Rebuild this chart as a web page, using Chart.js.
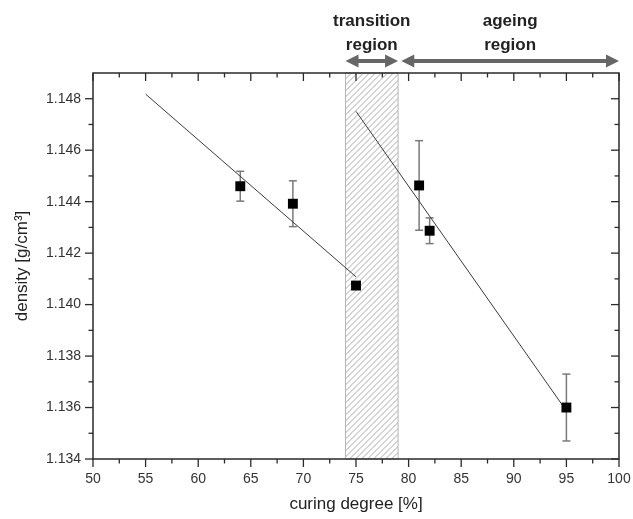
<!DOCTYPE html>
<html>
<head>
<meta charset="utf-8">
<script src="https://cdn.jsdelivr.net/npm/chart.js@4.4.1/dist/chart.umd.min.js"></script>
<style>
  html, body { margin: 0; padding: 0; background: #fff; }
</style>
</head>
<body>
<canvas id="densityChart" width="633" height="519"></canvas>
<script>
// measured points
const curing = [64, 69, 75, 81, 82, 95];
const density = [1.14460, 1.14392, 1.14074, 1.14463, 1.14287, 1.13600];
const densityErr = [0.00058, 0.00089, 0, 0.00174, 0.00050, 0.00130];

// linear fits (end points)
const fit1X = [55, 75];
const fit1Y = [1.14818, 1.14108];
const fit2X = [75, 95];
const fit2Y = [1.14751, 1.13587];

// axis ticks
const xTicks = [50, 55, 60, 65, 70, 75, 80, 85, 90, 95, 100];
const yTicks = [1.134, 1.136, 1.138, 1.140, 1.142, 1.144, 1.146, 1.148];

// regions
const transitionRange = [74, 79];
const ageingRange = [79.3, 100];
const transitionLabel = ['transition', 'region'];
const ageingLabel = ['ageing', 'region'];

const FONT = "'Liberation Sans', Arial, sans-serif";

function line(ctx, x0, y0, x1, y1) {
    ctx.beginPath();
    ctx.moveTo(x0, y0);
    ctx.lineTo(x1, y1);
    ctx.stroke();
}

function doubleArrow(ctx, xa, xb, yy) {
    const head = 13, half = 6.5;
    ctx.lineWidth = 4;
    line(ctx, xa + head - 1, yy, xb - head + 1, yy);
    ctx.beginPath();
    ctx.moveTo(xa, yy);
    ctx.lineTo(xa + head, yy - half);
    ctx.lineTo(xa + head, yy + half);
    ctx.closePath();
    ctx.fill();
    ctx.beginPath();
    ctx.moveTo(xb, yy);
    ctx.lineTo(xb - head, yy - half);
    ctx.lineTo(xb - head, yy + half);
    ctx.closePath();
    ctx.fill();
}

const decor = {
    id: 'decor',
    beforeDatasetsDraw(chart) {
        const { ctx, chartArea: a, scales: { x, y } } = chart;
        // hatched transition band
        const x0 = x.getPixelForValue(transitionRange[0]);
        const x1 = x.getPixelForValue(transitionRange[1]);
        const h = a.bottom - a.top;
        ctx.save();
        ctx.beginPath();
        ctx.rect(x0, a.top, x1 - x0, h);
        ctx.clip();
        ctx.strokeStyle = '#ababab';
        ctx.lineWidth = 1;
        for (let s = x0 - h; s < x1 + 2; s += 6) {
            line(ctx, s, a.bottom, s + h, a.top);
        }
        ctx.restore();
        ctx.save();
        ctx.strokeStyle = '#b5b5b5';
        ctx.lineWidth = 1;
        ctx.strokeRect(x0, a.top, x1 - x0, h);
        ctx.restore();

        // error bars
        ctx.save();
        ctx.strokeStyle = '#7a7a7a';
        ctx.lineWidth = 1.5;
        curing.forEach((c, i) => {
            if (!densityErr[i]) return;
            const px = x.getPixelForValue(c);
            const top = y.getPixelForValue(density[i] + densityErr[i]);
            const bot = y.getPixelForValue(density[i] - densityErr[i]);
            line(ctx, px, top, px, bot);
            line(ctx, px - 4, top, px + 4, top);
            line(ctx, px - 4, bot, px + 4, bot);
        });
        ctx.restore();
    },
    afterDraw(chart) {
        const { ctx, chartArea: a, scales: { x, y } } = chart;
        ctx.save();
        ctx.strokeStyle = '#2a2a2a';
        ctx.lineWidth = 1.5;
        ctx.strokeRect(a.left, a.top, a.right - a.left, a.bottom - a.top);

        const major = 8, minor = 4.5;
        ctx.lineWidth = 1.3;
        xTicks.forEach((v, i) => {
            const px = x.getPixelForValue(v);
            line(ctx, px, a.bottom, px, a.bottom + major);
            line(ctx, px, a.top, px, a.top + major);
            if (i < xTicks.length - 1) {
                const m = x.getPixelForValue((v + xTicks[i + 1]) / 2);
                line(ctx, m, a.bottom, m, a.bottom + minor);
                line(ctx, m, a.top, m, a.top + minor);
            }
        });
        yTicks.forEach((v, i) => {
            const py = y.getPixelForValue(v);
            line(ctx, a.left, py, a.left - major, py);
            line(ctx, a.right, py, a.right - major, py);
            const next = i < yTicks.length - 1 ? yTicks[i + 1] : v + 0.002;
            const mv = (v + next) / 2;
            if (mv < y.max) {
                const m = y.getPixelForValue(mv);
                line(ctx, a.left, m, a.left - minor, m);
                line(ctx, a.right, m, a.right - minor, m);
            }
        });

        // region arrows and labels
        const ay = a.top - 12;
        ctx.strokeStyle = '#666';
        ctx.fillStyle = '#666';
        const t0 = x.getPixelForValue(transitionRange[0]);
        const t1 = x.getPixelForValue(transitionRange[1]);
        const g0 = x.getPixelForValue(ageingRange[0]);
        const g1 = x.getPixelForValue(ageingRange[1]);
        doubleArrow(ctx, t0, t1, ay);
        doubleArrow(ctx, g0, g1, ay);

        ctx.fillStyle = '#222';
        ctx.font = 'bold 17px ' + FONT;
        ctx.textAlign = 'center';
        ctx.textBaseline = 'middle';
        transitionLabel.forEach((t, i) => ctx.fillText(t, (t0 + t1) / 2, 21 + i * 24));
        ageingLabel.forEach((t, i) => ctx.fillText(t, (g0 + g1) / 2, 21 + i * 24));
        ctx.restore();
    }
};

const tickFont = { family: FONT, size: 14 };
const titleFont = { family: FONT, size: 17 };

new Chart(document.getElementById('densityChart'), {
    type: 'scatter',
    data: {
        datasets: [
            {
                label: 'density',
                data: curing.map((c, i) => ({ x: c, y: density[i] })),
                pointStyle: 'rect',
                pointRadius: 7,
                backgroundColor: '#000',
                borderColor: '#000',
                borderWidth: 0,
                order: 0
            },
            {
                type: 'line',
                label: 'fit 1',
                data: fit1X.map((v, i) => ({ x: v, y: fit1Y[i] })),
                borderColor: '#3a3a3a',
                borderWidth: 1,
                pointRadius: 0,
                fill: false,
                order: 1
            },
            {
                type: 'line',
                label: 'fit 2',
                data: fit2X.map((v, i) => ({ x: v, y: fit2Y[i] })),
                borderColor: '#3a3a3a',
                borderWidth: 1,
                pointRadius: 0,
                fill: false,
                order: 1
            }
        ]
    },
    options: {
        responsive: false,
        animation: false,
        devicePixelRatio: 1,
        layout: { padding: { top: 73, right: 14, left: 0, bottom: 0 } },
        plugins: {
            legend: { display: false },
            tooltip: { enabled: false }
        },
        scales: {
            x: {
                type: 'linear',
                min: 50,
                max: 100,
                afterFit: s => { s.height = 60; s.paddingLeft = 0; s.paddingRight = 0; },
                afterBuildTicks: s => { s.ticks = xTicks.map(v => ({ value: v })); },
                grid: { display: false, drawTicks: false },
                border: { display: false },
                ticks: { padding: 12, color: '#333', font: tickFont, maxRotation: 0, autoSkip: false },
                title: {
                    display: true,
                    text: 'curing degree [%]',
                    color: '#222',
                    font: titleFont,
                    padding: { top: 0, bottom: 4 }
                }
            },
            y: {
                type: 'linear',
                min: 1.134,
                max: 1.149,
                afterFit: s => { s.width = 93; s.paddingTop = 0; s.paddingBottom = 0; },
                afterBuildTicks: s => { s.ticks = yTicks.map(v => ({ value: v })); },
                grid: { display: false, drawTicks: false },
                border: { display: false },
                ticks: {
                    padding: 12,
                    color: '#333',
                    font: tickFont,
                    autoSkip: false,
                    callback: v => v.toFixed(3)
                },
                title: {
                    display: true,
                    text: 'density [g/cm³]',
                    color: '#222',
                    font: titleFont,
                    padding: { top: 12, bottom: 0 }
                }
            }
        }
    },
    plugins: [decor]
});
</script>
</body>
</html>
